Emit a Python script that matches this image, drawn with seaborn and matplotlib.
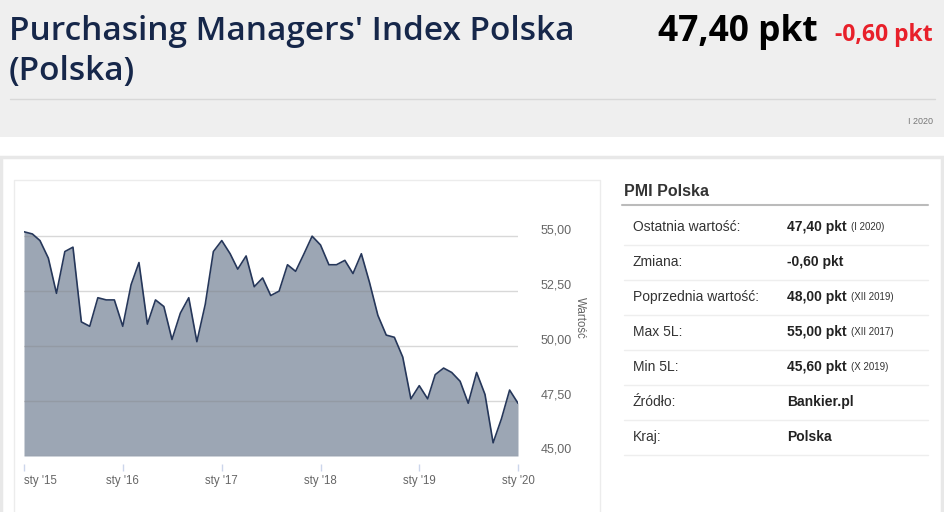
import pandas as pd
import matplotlib
matplotlib.use("Agg")
import matplotlib.pyplot as plt
from matplotlib.patches import Rectangle
import seaborn as sns

# --- Dane: PMI Polska, miesięcznie od I 2015 do I 2020 ---
pmi = [55.2, 55.1, 54.8, 54.0, 52.4, 54.3, 54.5, 51.1, 50.9, 52.2, 52.1, 52.1,
       50.9, 52.8, 53.8, 51.0, 52.1, 51.8, 50.3, 51.5, 52.2, 50.2, 51.9, 54.3,
       54.8, 54.2, 53.5, 54.1, 52.7, 53.1, 52.3, 52.5, 53.7, 53.4, 54.2, 55.0,
       54.6, 53.7, 53.7, 53.9, 53.3, 54.2, 52.9, 51.4, 50.5, 50.4, 49.5, 47.6,
       48.2, 47.6, 48.7, 49.0, 48.8, 48.4, 47.4, 48.8, 47.8, 45.6, 46.7, 48.0,
       47.4]
miesiace = pd.date_range("2015-01-01", periods=len(pmi), freq="MS")
lata = ["2015", "2016", "2017", "2018", "2019", "2020"]
etykiety_x = ["sty '15", "sty '16", "sty '17", "sty '18", "sty '19", "sty '20"]
wartosci_y = [45.0, 47.5, 50.0, 52.5, 55.0]

tabela_nazwy = ["Ostatnia wartość:", "Zmiana:", "Poprzednia wartość:", "Max 5L:",
                "Min 5L:", "Źródło:", "Kraj:"]
tabela_wartosci = ["47,40 pkt", "-0,60 pkt", "48,00 pkt", "55,00 pkt",
                   "45,60 pkt", "Bankier.pl", "Polska"]
tabela_daty = ["(I 2020)", "", "(XII 2019)", "(XII 2017)", "(X 2019)", "", ""]

df = pd.DataFrame({"miesiac": miesiace, "pmi": pmi})

W, H = 945, 512


def px(x, y):
    return x / W, 1 - y / H


sns.set_style("white")
plt.rcParams["font.family"] = ["Liberation Sans", "DejaVu Sans"]

fig = plt.figure(figsize=(W / 100, H / 100), dpi=100)

# --- Nagłówek ---
fig.patches.append(Rectangle(px(0, 137), 1, 137 / H, transform=fig.transFigure,
                             facecolor="#efefef", edgecolor="none", zorder=0))
fig.text(*px(9, 31), "Purchasing Managers' Index Polska", fontsize=24,
         color="#16274a", va="center", family="Open Sans", fontweight=600)
fig.text(*px(9, 72), "(Polska)", fontsize=24, color="#16274a", va="center",
         family="Open Sans", fontweight=600)
fig.text(*px(818, 32), "47,40 pkt", fontsize=25.5, fontweight="bold", color="black",
         va="center", ha="right", family="Open Sans")
fig.text(*px(933, 35), "-0,60 pkt", fontsize=16.5, fontweight="bold", color="#e8202a",
         va="center", ha="right", family="Open Sans")
fig.add_artist(plt.Line2D([10 / W, 935 / W], [1 - 99 / H] * 2, color="#d8d8d8", lw=1))
fig.text(*px(933, 121), "I 2020", fontsize=6.5, color="#777777", va="center", ha="right")

# --- Ramki ---
fig.patches.append(Rectangle(px(1, 540), 941 / W, 383 / H, transform=fig.transFigure,
                             facecolor="white", edgecolor="#e8e8e8", lw=2.5, zorder=0))
fig.patches.append(Rectangle(px(14, 540), 586 / W, 360 / H, transform=fig.transFigure,
                             facecolor="white", edgecolor="#ececec", lw=1, zorder=0))

# --- Wykres ---
ax = fig.add_axes([24 / W, 1 - 456 / H, 494 / W, 266 / H])
ax.set_zorder(2)
ax.set_facecolor("none")
ax.fill_between(df["miesiac"], df["pmi"], 45, color="#9ca6b4", lw=0, zorder=1)
sns.lineplot(data=df, x="miesiac", y="pmi", ax=ax, color="#26375a", lw=1.2, zorder=3)

for s in ax.spines.values():
    s.set_visible(False)
ax.spines["bottom"].set_position(("outward", 6))

ax.set_xlim(miesiace[0], miesiace[-1])
ax.set_ylim(45, 57.1)
ax.set_yticks(wartosci_y)
ax.set_yticklabels([f"{v:.2f}".replace(".", ",") for v in wartosci_y])
ax.yaxis.tick_right()
ax.tick_params(axis="y", length=0, pad=16, labelsize=9, labelcolor="#666666")
for lbl in ax.get_yticklabels():
    lbl.set_verticalalignment("bottom")
ax.grid(axis="y", color="#808080", alpha=0.3, lw=1)
ax.set_axisbelow(False)

ax.set_xticks(pd.to_datetime([f"{r}-01-01" for r in lata]))
ax.set_xticklabels(etykiety_x)
ax.tick_params(axis="x", bottom=True, length=5, width=1, color="#ccd6eb", pad=2.5,
               labelsize=8.3, labelcolor="#666666")
ax.get_xticklabels()[0].set_horizontalalignment("left")

ax.set_xlabel("")
ax.set_ylabel("Wartość", rotation=-90, fontsize=8.3, color="#666666", va="center")
ax.yaxis.set_label_position("right")
ax.yaxis.set_label_coords(1.138, 0.52)

# --- Tabela ---
fig.text(*px(624, 192), "PMI Polska", fontsize=11.5, fontweight="bold",
         color="#333333", va="center")
fig.add_artist(plt.Line2D([622 / W, 928 / W], [1 - 205 / H] * 2, color="#bbbbbb", lw=1.5))
for i, (n, v, d) in enumerate(zip(tabela_nazwy, tabela_wartosci, tabela_daty)):
    y = 227 + i * 35
    fig.text(*px(633, y), n, fontsize=10, color="#333333", va="center")
    t = fig.text(*px(787, y), v, fontsize=10, fontweight="bold", color="#222222",
                 va="center")
    if d:
        fig.canvas.draw()
        bb = t.get_window_extent()
        fig.text(bb.x1 / W + 4 / W, 1 - y / H, d, fontsize=7, color="#333333",
                 va="center")
    fig.add_artist(plt.Line2D([624 / W, 928 / W], [1 - (y + 18) / H] * 2,
                              color="#eeeeee", lw=1))

fig.savefig("out.png", dpi=100)
